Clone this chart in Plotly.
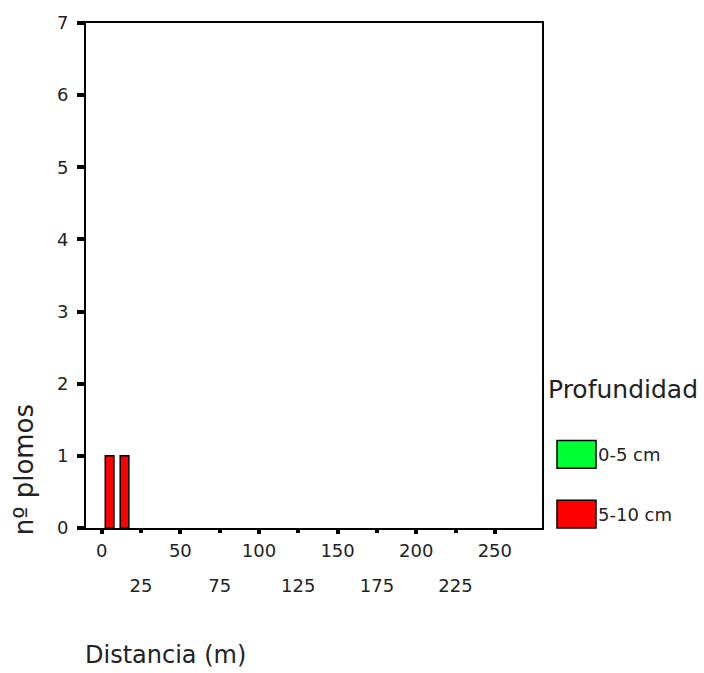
import plotly.graph_objects as go

# Data: number of lead pellets per distance, by depth
distancia = [5, 14.5]
plomos_0_5 = [0, 0]
plomos_5_10 = [1, 1]
series_names = ["0-5 cm", "5-10 cm"]
series_colors = ["#00ff33", "#ff0000"]

x_ticks_row1 = [0, 50, 100, 150, 200, 250]
x_ticks_row2 = [25, 75, 125, 175, 225]
y_ticks = [0, 1, 2, 3, 4, 5, 6, 7]

W, H = 704, 673
L, R, T, B = 86, 162, 20, 145
PW, PH = W - L - R, H - T - B
FONT = "DejaVu Sans"


def px_x(px):
    return (px - L) / PW


def px_y(py):
    return (H - B - py) / PH


fig = go.Figure()
for name, vals, col in zip(series_names, [plomos_0_5, plomos_5_10], series_colors):
    fig.add_trace(go.Bar(
        x=distancia, y=vals, name=name, width=5.5,
        marker=dict(color=col, line=dict(color="black", width=1.5)),
        showlegend=False,
    ))

# empty trace so the second label row axis is rendered
fig.add_trace(go.Scatter(x=[None], y=[None], xaxis="x2", showlegend=False,
                         hoverinfo="skip"))

xr = [-10, 280]
axis_font = dict(family=FONT, size=18, color="#222")
fig.update_layout(
    width=W, height=H,
    margin=dict(l=L, r=R, t=T, b=B),
    paper_bgcolor="white", plot_bgcolor="white",
    barmode="overlay",
    font=dict(family=FONT, color="#222"),
    xaxis=dict(range=xr, tickvals=x_ticks_row1, ticks="outside", ticklen=4,
               tickwidth=4, tickcolor="black", showgrid=False, zeroline=False,
               showline=True, linecolor="black", linewidth=2, mirror=True,
               tickfont=axis_font, ticklabelstandoff=1),
    xaxis2=dict(range=xr, overlaying="x", anchor="y", side="bottom",
                tickvals=x_ticks_row2, ticks="outside", ticklen=4, tickwidth=4,
                tickcolor="black", showgrid=False, zeroline=False,
                showline=False, tickfont=axis_font, ticklabelstandoff=37),
    yaxis=dict(range=[0, 7], tickvals=y_ticks, ticks="outside", ticklen=7,
               tickwidth=4, tickcolor="black", showgrid=False, zeroline=False,
               showline=True, linecolor="black", linewidth=2, mirror=True,
               tickfont=axis_font, ticklabelstandoff=5),
    showlegend=False,
)

# axis titles
fig.add_annotation(text="Distancia (m)", xref="paper", yref="paper",
                   x=px_x(83), y=px_y(656), xanchor="left", yanchor="middle",
                   showarrow=False, font=dict(family=FONT, size=24))
fig.add_annotation(text="nº plomos", xref="paper", yref="paper",
                   x=px_x(24), y=px_y(470), xanchor="center", yanchor="middle",
                   textangle=-90, showarrow=False,
                   font=dict(family=FONT, size=26))

# legend: title, colour boxes and labels
fig.add_annotation(text="Profundidad", xref="paper", yref="paper",
                   x=px_x(546), y=px_y(389), xanchor="left", yanchor="middle",
                   showarrow=False, font=dict(family=FONT, size=25))
box_tops = [440, 500]
for name, col, top in zip(series_names, series_colors, box_tops):
    fig.add_shape(type="rect", xref="paper", yref="paper",
                  x0=px_x(557), x1=px_x(596), y0=px_y(top + 28), y1=px_y(top),
                  fillcolor=col, line=dict(color="black", width=1.5))
    fig.add_annotation(text=name, xref="paper", yref="paper",
                       x=px_x(596), y=px_y(top + 14), xanchor="left",
                       yanchor="middle", showarrow=False,
                       font=dict(family=FONT, size=18))

fig.write_html("out.html")
